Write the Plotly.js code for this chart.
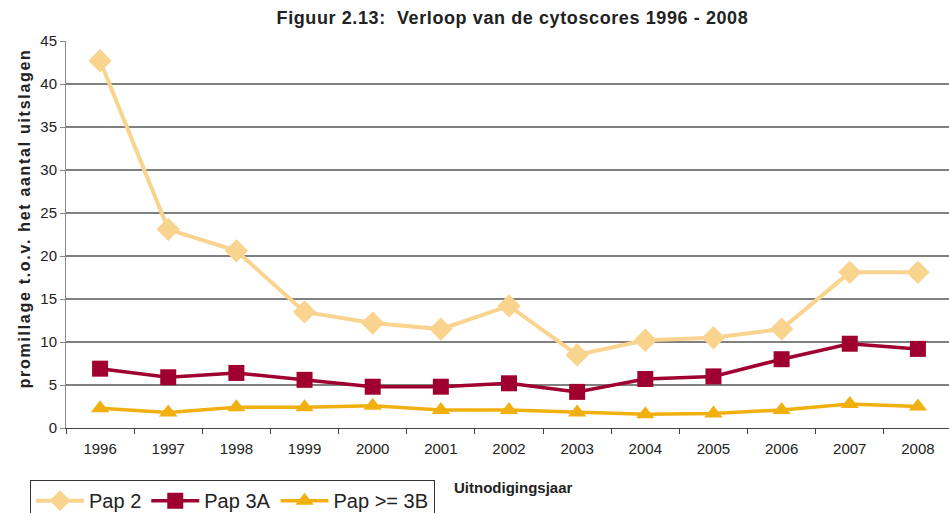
<!DOCTYPE html>
<html>
<head>
<meta charset="utf-8">
<script src="https://cdn.plot.ly/plotly-3.0.1.min.js"></script>
<style>html,body{margin:0;padding:0;overflow:hidden;background:#fff;}</style>
</head>
<body>
<div id="chart" style="width:949px;height:513px;"></div>
<script>
const years = ['1996','1997','1998','1999','2000','2001','2002','2003','2004','2005','2006','2007','2008'];
const pap2 = [42.7, 23.1, 20.6, 13.5, 12.2, 11.5, 14.2, 8.5, 10.2, 10.5, 11.5, 18.1, 18.1];
const pap3A = [6.9, 5.9, 6.4, 5.6, 4.8, 4.8, 5.2, 4.2, 5.7, 6.0, 8.0, 9.8, 9.2];
const pap3B = [2.3, 1.8, 2.4, 2.4, 2.6, 2.1, 2.1, 1.8, 1.6, 1.7, 2.1, 2.8, 2.5];

const font = 'Liberation Sans, Arial, sans-serif';
const traces = [
  {x: years, y: pap2, name: 'Pap 2', type: 'scatter', mode: 'lines+markers',
   line: {color: '#F9D48F', width: 4}, marker: {symbol: 'diamond', size: 18, color: '#F9D48F'}},
  {x: years, y: pap3A, name: 'Pap 3A', type: 'scatter', mode: 'lines+markers',
   line: {color: '#A0002F', width: 3.5}, marker: {symbol: 'square', size: 16, color: '#A0002F'}},
  {x: years, y: pap3B, name: 'Pap >= 3B', type: 'scatter', mode: 'lines+markers',
   line: {color: '#F0B010', width: 3.5}, marker: {symbol: 'triangle-up', size: 16, color: '#F0B010'}}
];
const layout = {
  width: 949, height: 513,
  margin: {l: 66, r: 0, t: 41, b: 85, autoexpand: false},
  paper_bgcolor: '#fff', plot_bgcolor: '#fff',
  font: {family: font, color: '#222', size: 15},
  title: {text: '<b>Figuur 2.13:  Verloop van de cytoscores 1996 - 2008</b>', font: {size: 18, color: '#222'},
          x: 0.54, xanchor: 'center', y: 0.965, yanchor: 'middle'},
  showlegend: true,
  legend: {orientation: 'h', xref: 'container', yref: 'container', x: 0.0316, xanchor: 'left',
           y: 0.064, yanchor: 'top',
           bordercolor: '#333', borderwidth: 1, font: {size: 20, color: '#222'},
           itemwidth: 48, tracegroupgap: 0},
  xaxis: {type: 'category', range: [-0.5, 12.456], tickson: 'boundaries', ticks: 'outside', ticklen: 5,
          tickcolor: '#444', showline: true, linecolor: '#444', linewidth: 1, showgrid: false,
          tickfont: {size: 15}, ticklabelstandoff: 7, zeroline: false, fixedrange: true},
  yaxis: {range: [0, 45], dtick: 5, ticks: 'outside', ticklen: 5, tickcolor: '#888',
          showline: true, linecolor: '#888', linewidth: 1, showgrid: true, gridcolor: '#808080', gridwidth: 1.5,
          zeroline: false, tickfont: {size: 15}},
  annotations: [
    {text: '<b>promillage t.o.v. het aantal uitslagen</b>', xref: 'paper', yref: 'paper',
     x: -0.0475, y: 0.540, xanchor: 'center', yanchor: 'middle', textangle: -90, showarrow: false,
     font: {size: 16, color: '#222'}},
    {text: '<b>Uitnodigingsjaar</b>', xref: 'paper', yref: 'paper', x: 0.437, y: -0.155,
     xanchor: 'left', yanchor: 'middle', showarrow: false, font: {size: 15, color: '#222'}}
  ]
};
Plotly.newPlot('chart', traces, layout, {displayModeBar: false, staticPlot: true}).then(function () {
  const ann = document.querySelectorAll('.annotation-text');
  if (ann.length) ann[0].style.letterSpacing = '1.7px';
  document.querySelectorAll('.gtitle').forEach(function (t) { t.style.letterSpacing = '0.6px'; });
});
</script>
</body>
</html>
